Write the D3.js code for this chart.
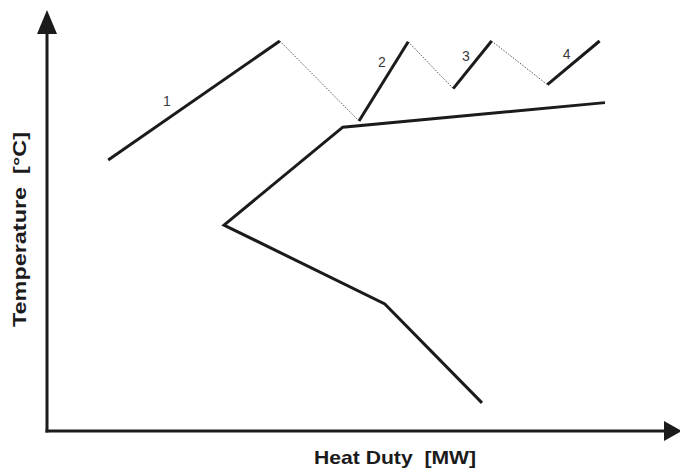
<!DOCTYPE html>
<html>
<head>
<meta charset="utf-8">
<script src="https://cdn.jsdelivr.net/npm/d3@7"></script>
<style>
  html, body { margin: 0; padding: 0; background: #ffffff; }
  svg { display: block; }
</style>
</head>
<body>
<script>
// ---- Data (arbitrary units: heat duty 0-100, temperature 0-100) ----
const hotSolidSegments = [
  { label: "1", points: [[10.2, 69.5], [38.8, 100]] },
  { label: "2", points: [[52.0, 79.5], [60.2, 99.8]] },
  { label: "3", points: [[67.7, 87.8], [74.1, 100]] },
  { label: "4", points: [[83.4, 88.8], [92.1, 100]] }
];
const hotDottedSegments = [
  [[38.8, 100], [52.0, 79.5]],
  [[60.2, 99.8], [67.7, 87.8]],
  [[74.1, 100], [83.4, 88.8]]
];
const coldCurve = [[72.5, 7.2], [56.3, 32.6], [29.5, 52.8], [49.3, 77.9], [93.0, 84.2]];
const segmentLabelPos = [[20.0, 84.5], [55.8, 94.5], [69.8, 96.2], [86.6, 96.7]];
const xAxisTitle = "Heat Duty\u00a0\u00a0[MW]";
const yAxisTitle = "Temperature\u00a0\u00a0[°C]";

const W = 680, H = 468;
const x = d3.scaleLinear().domain([0, 100]).range([47, 647]);
const y = d3.scaleLinear().domain([0, 100]).range([431, 41]);

const svg = d3.select("body").append("svg").attr("width", W).attr("height", H);
svg.append("rect").attr("width", W).attr("height", H).attr("fill", "#ffffff");

const line = d3.line().x(d => x(d[0])).y(d => y(d[1]));
const ink = "#1b1b1b";

// axes with arrowheads
const x0 = x(0), y0 = y(0);
svg.append("line").attr("x1", x0).attr("y1", y0 + 1.5).attr("x2", x0).attr("y2", 28)
  .attr("stroke", ink).attr("stroke-width", 3);
svg.append("line").attr("x1", x0 - 1.5).attr("y1", y0).attr("x2", 668).attr("y2", y0)
  .attr("stroke", ink).attr("stroke-width", 3);
svg.append("path").attr("d", `M${x0},10 L${x0 - 10},34 L${x0 + 10},34 Z`).attr("fill", ink);
svg.append("path").attr("d", `M682,${y0} L664,${y0 - 10} L664,${y0 + 10} Z`).attr("fill", ink);

// dotted connectors
svg.selectAll("path.dot").data(hotDottedSegments).join("path")
  .attr("class", "dot").attr("d", line)
  .attr("fill", "none").attr("stroke", "#555").attr("stroke-width", 1)
  .attr("stroke-dasharray", "1.5,1.5");

// solid hot segments
svg.selectAll("path.hot").data(hotSolidSegments).join("path")
  .attr("class", "hot").attr("d", d => line(d.points))
  .attr("fill", "none").attr("stroke", ink).attr("stroke-width", 3)
  .attr("stroke-linecap", "butt");

// cold curve
svg.append("path").datum(coldCurve).attr("d", line)
  .attr("fill", "none").attr("stroke", ink).attr("stroke-width", 3)
  .attr("stroke-linejoin", "miter");

// segment labels
svg.selectAll("text.seg").data(hotSolidSegments).join("text")
  .attr("class", "seg")
  .attr("x", (d, i) => x(segmentLabelPos[i][0]))
  .attr("y", (d, i) => y(segmentLabelPos[i][1]))
  .attr("text-anchor", "middle").attr("dominant-baseline", "central")
  .attr("font-family", "Liberation Sans, Arial, sans-serif")
  .attr("font-size", 14).attr("fill", "#3a3a3a")
  .text(d => d.label);

// axis titles
svg.append("text").attr("x", 314).attr("y", 464)
  .attr("font-family", "Liberation Sans, Arial, sans-serif")
  .attr("font-weight", "bold").attr("font-size", 19).attr("fill", ink)
  .attr("textLength", 162).attr("lengthAdjust", "spacingAndGlyphs")
  .text(xAxisTitle);

svg.append("text").attr("transform", "translate(26,327) rotate(-90)")
  .attr("x", 0).attr("y", 0)
  .attr("font-family", "Liberation Sans, Arial, sans-serif")
  .attr("font-weight", "bold").attr("font-size", 19).attr("fill", ink)
  .attr("textLength", 195).attr("lengthAdjust", "spacingAndGlyphs")
  .text(yAxisTitle);
</script>
</body>
</html>
